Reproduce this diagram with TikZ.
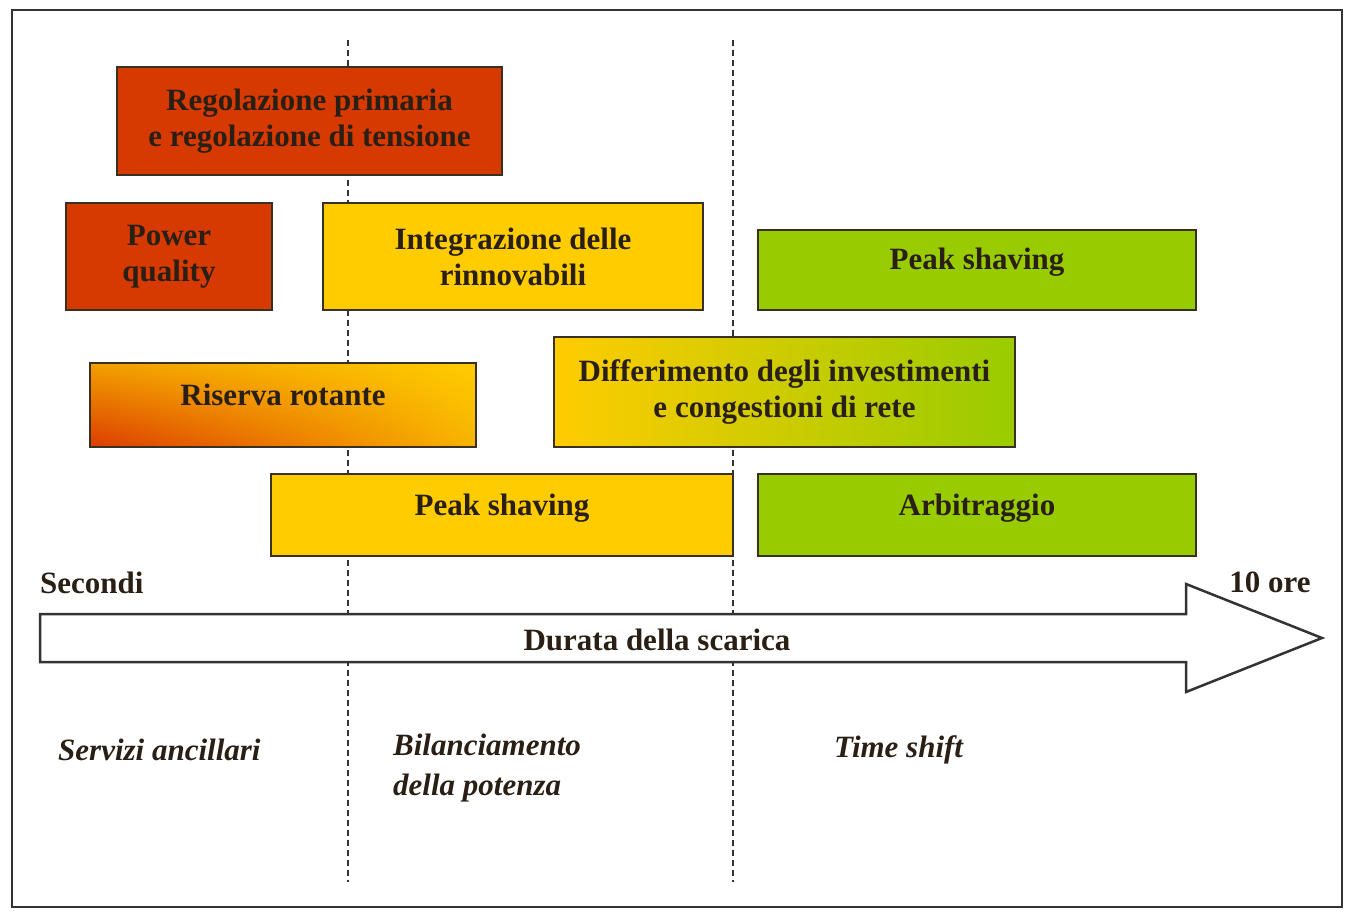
\documentclass[tikz,border=0pt]{standalone}
\usepackage{fontspec}
\setmainfont{Liberation Serif}
\usetikzlibrary{shadings}
\definecolor{cred}{HTML}{D63A00}
\definecolor{cyel}{HTML}{FFCC00}
\definecolor{cgrn}{HTML}{99CC00}
\definecolor{cline}{HTML}{3A3020}
\definecolor{ctxt}{HTML}{2A1F14}
\definecolor{cframe}{HTML}{333333}
\definecolor{rUL}{HTML}{F2A000}
\definecolor{rLL}{HTML}{DC3C00}
\definecolor{rUR}{HTML}{FFCC00}
\definecolor{rLR}{HTML}{F8B400}
\begin{document}
\begin{tikzpicture}[x=1pt,y=-1pt,
  bigfont/.style={font=\bfseries\fontsize{31}{36}\selectfont},
  box/.style={draw=cline, line width=2pt, bigfont, text=ctxt, inner sep=0pt, align=center},
  oneline/.style={text height=12pt, text depth=12pt},
  lbl/.style={bigfont, text=ctxt, inner sep=0pt},
  ital/.style={font=\bfseries\itshape\fontsize{31}{40}\selectfont, text=ctxt, inner sep=0pt, align=left},
  sep/.style={draw=cframe, line width=1.5pt, dash pattern=on 6pt off 4pt}
]
\useasboundingbox (0,0) rectangle (1345,912);
% frame
\draw[draw=cframe, line width=2.5pt] (12,10) rectangle (1342,907);
% separators
\coordinate (s1t) at (348,40); \coordinate (s1b) at (348,882);
\coordinate (s2t) at (733,40); \coordinate (s2b) at (733,882);
\draw[sep] (s1t) -- (s1b);
\draw[sep] (s2t) -- (s2b);
% boxes
\node[box, fill=cred, minimum width=385pt, minimum height=108pt] (reg) at (309.5,121)
  {Regolazione primaria\\e regolazione di tensione};
\node[box, fill=cred, minimum width=206pt, minimum height=107pt] (pq) at (169,256.5)
  {Power\\quality};
\node[box, fill=cyel, minimum width=380pt, minimum height=107pt] (integ) at (513,256.5)
  {Integrazione delle\\rinnovabili};
\node[box, oneline, fill=cgrn, minimum width=438pt, minimum height=80pt] (ps1) at (977,270)
  {Peak shaving};
\node[box, oneline, upper left=rUL, lower left=rLL, upper right=rUR, lower right=rLR,
  minimum width=386pt, minimum height=84pt] (ris) at (283,405)
  {Riserva rotante};
\node[box, left color=cyel, right color=cgrn, minimum width=461pt, minimum height=110pt] (diff) at (784.5,392)
  {Differimento degli investimenti\\e congestioni di rete};
\node[box, oneline, fill=cyel, minimum width=462pt, minimum height=82pt] (ps2) at (502,515)
  {Peak shaving};
\node[box, oneline, fill=cgrn, minimum width=438pt, minimum height=82pt] (arb) at (977,515)
  {Arbitraggio};
% arrow
\draw[draw=cframe, line width=2.5pt, fill=white, line join=miter]
  (40,614) -- (1186,614) -- (1186,584) -- (1322,638) -- (1186,692) -- (1186,662) -- (40,662) -- cycle;
\node[lbl] (dur) at (657,640) {Durata della scarica};
\node[lbl, anchor=west] (sec) at (40,583) {Secondi};
\node[lbl] (ore) at (1270,582) {10 ore};
% categories
\node[ital, anchor=west] (anc) at (58,750) {Servizi ancillari};
\node[ital, anchor=west] (bil) at (393,768) {Bilanciamento\\della potenza};
\node[ital, anchor=west] (ts) at (834,750) {Time shift};
\end{tikzpicture}
\end{document}
